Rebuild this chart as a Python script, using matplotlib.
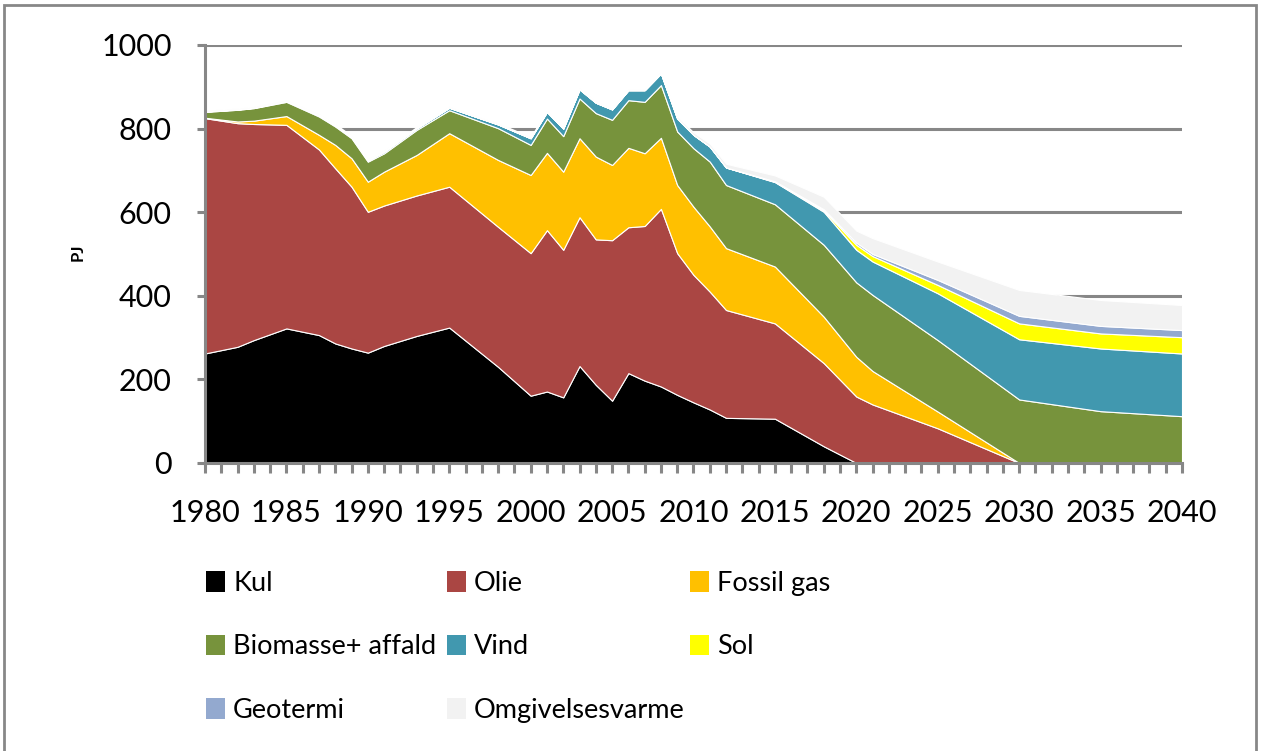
import matplotlib
matplotlib.use("Agg")
import matplotlib.pyplot as plt
import matplotlib.patches as mpatches
import numpy as np

plt.rcParams['font.family'] = ['Lato', 'DejaVu Sans']

# years with data points
years = [1980, 1982, 1983, 1985, 1987, 1988, 1989, 1990, 1991, 1993, 1995, 1998,
         2000, 2001, 2002, 2003, 2004, 2005, 2006, 2007, 2008, 2009, 2010, 2011,
         2012, 2015, 2018, 2020, 2021, 2025, 2030, 2035, 2040]

kul = [262, 278, 294, 322, 306, 286, 274, 264, 280, 304, 324, 230,
       161, 171, 157, 232, 187, 149, 215, 197, 183, 163, 145, 128,
       108, 106, 40, 0, 0, 0, 0, 0, 0]
olie = [563, 535, 517, 487, 444, 419, 387, 337, 336, 336, 337, 335,
        341, 386, 353, 356, 348, 384, 349, 370, 425, 339, 305, 282,
        258, 228, 199, 159, 140, 83, 0, 0, 0]
fossil_gas = [1, 4, 8, 21, 35, 56, 68, 72, 81, 97, 128, 160,
              187, 185, 187, 189, 198, 180, 190, 174, 170, 163, 163, 156,
              148, 136, 111, 95, 80, 40, 0, 0, 0]
biomasse = [14, 28, 30, 34, 44, 44, 48, 48, 44, 60, 55, 76,
            72, 82, 85, 95, 104, 108, 114, 123, 126, 128, 140, 155,
            151, 149, 172, 178, 182, 171, 152, 124, 112]
vind = [1, 1, 1, 2, 3, 3, 3, 3, 4, 4, 6, 9,
        16, 16, 18, 22, 25, 25, 24, 28, 28, 31, 32, 36,
        42, 53, 79, 78, 80, 112, 144, 150, 150]
sol = [0, 0, 0, 0, 0, 0, 0, 0, 0, 0, 0, 0,
       0, 0, 0, 0, 0, 0, 0, 0, 0, 0, 0, 0,
       0, 1, 3, 12, 13, 20, 38, 36, 39]
geotermi = [0, 0, 0, 0, 0, 0, 0, 0, 0, 0, 0, 0,
            0, 0, 0, 0, 0, 0, 0, 0, 0, 0, 0, 0,
            0, 1, 3, 5, 5, 12, 18, 18, 17]
omgivelsesvarme = [3, 3, 3, 3, 3, 3, 3, 3, 3, 3, 3, 3,
                   3, 3, 3, 3, 3, 3, 3, 3, 4, 5, 6, 7,
                   9, 14, 30, 29, 38, 44, 62, 62, 60]

labels = ['Kul', 'Olie', 'Fossil gas', 'Biomasse+ affald', 'Vind', 'Sol',
          'Geotermi', 'Omgivelsesvarme']
colors = ['#000000', '#AA4643', '#FFC000', '#77933C', '#4198AF', '#FFFF00',
          '#93A9CF', '#F2F2F2']

grey = '#878787'

fig = plt.figure(figsize=(12.63, 7.51), dpi=100)
ax = fig.add_axes([205 / 1263, 1 - 463 / 751, 977 / 1263, 418 / 751])

polys = ax.stackplot(years, kul, olie, fossil_gas, biomasse, vind, sol,
                     geotermi, omgivelsesvarme, colors=colors, zorder=2)
for p in polys:
    p.set_edgecolor('white')
    p.set_linewidth(0.8)

ax.set_xlim(1980, 2040)
ax.set_ylim(0, 1000)
ax.set_yticks(range(0, 1001, 200))
ax.set_xticks(range(1980, 2041, 5))
ax.set_xticks(range(1980, 2041), minor=True)

ax.yaxis.grid(True, color=grey, linewidth=2.2, zorder=0)
ax.set_axisbelow(True)
for s in ['top', 'right']:
    ax.spines[s].set_visible(False)
for s in ['left', 'bottom']:
    ax.spines[s].set_color(grey)
    ax.spines[s].set_linewidth(2.2)
    ax.spines[s].set_zorder(3)

ax.tick_params(axis='y', direction='out', length=6, width=2.2, color=grey,
               pad=18, labelsize=22)
ax.tick_params(axis='x', which='both', direction='out', length=7, width=2.2,
               color=grey, pad=19, labelsize=22)

fig.text(78 / 1263, 1 - 252 / 751, 'PJ', rotation=90, fontsize=12,
         fontweight='bold', ha='center', va='center')

# legend, three fixed columns like the original
handles = [mpatches.Patch(facecolor=c, edgecolor='none') for c in colors]
cols = [[0, 3, 6], [1, 4, 7], [2, 5]]
col_x = [206, 447, 690]
for idx, cx in zip(cols, col_x):
    fig.legend([handles[i] for i in idx], [labels[i] for i in idx],
               loc='upper left', bbox_to_anchor=(cx / 1263, 1 - 571 / 751),
               frameon=False, fontsize=19.5, handlelength=0.7, handleheight=0.8,
               handletextpad=0.3, labelspacing=1.42, borderpad=0, borderaxespad=0)

# chart area border
fig.patches.append(mpatches.Rectangle((4 / 1263, -0.05), 1252 / 1263, 1.05 - 5 / 751,
                                      transform=fig.transFigure, fill=False,
                                      edgecolor=grey, linewidth=2))

fig.savefig('out.png', dpi=100)
